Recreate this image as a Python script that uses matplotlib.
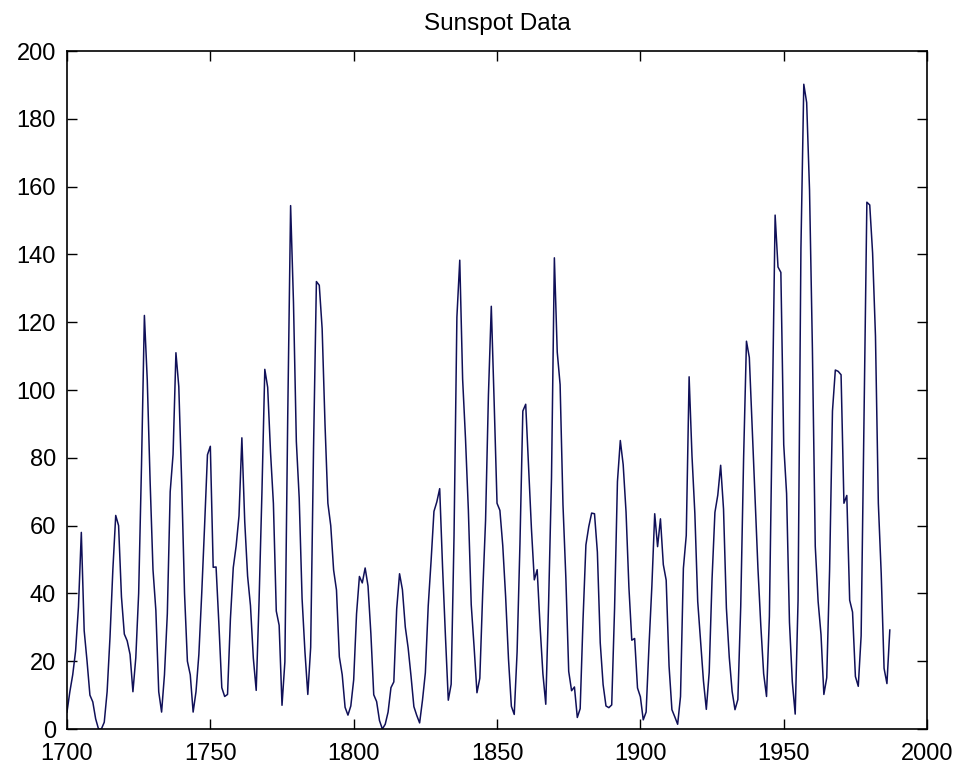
import numpy as np
import matplotlib
matplotlib.use('Agg')
import matplotlib.pyplot as plt

# yearly sunspot numbers, 1700-1987
years = np.arange(1700, 1988)
sunspots = [
    5, 11, 16, 23, 36, 58, 29, 20, 10, 8,
    3, 0, 0, 2, 11, 27, 47, 63, 60, 39,
    28, 26, 22, 11, 21, 40, 78, 122, 103, 73,
    47, 35, 11, 5, 16, 34, 70, 81, 111, 101,
    73, 40, 20, 16, 5, 11, 22, 40, 60, 80.9,
    83.4, 47.7, 47.8, 30.7, 12.2, 9.6, 10.2, 32.4, 47.6, 54,
    62.9, 85.9, 61.2, 45.1, 36.4, 20.9, 11.4, 37.8, 69.8, 106.1,
    100.8, 81.6, 66.5, 34.8, 30.6, 7, 19.8, 92.5, 154.4, 125.9,
    84.8, 68.1, 38.5, 22.8, 10.2, 24.1, 82.9, 132, 130.9, 118.1,
    89.9, 66.6, 60, 46.9, 41, 21.3, 16, 6.4, 4.1, 6.8,
    14.5, 34, 45, 43.1, 47.5, 42.2, 28.1, 10.1, 8.1, 2.5,
    0, 1.4, 5, 12.2, 13.9, 35.4, 45.8, 41.1, 30.1, 23.9,
    15.6, 6.6, 4, 1.8, 8.5, 16.6, 36.3, 49.6, 64.2, 67,
    70.9, 47.8, 27.5, 8.5, 13.2, 56.9, 121.5, 138.3, 103.2, 85.7,
    64.6, 36.7, 24.2, 10.7, 15, 40.1, 61.5, 98.5, 124.7, 96.3,
    66.6, 64.5, 54.1, 39, 20.6, 6.7, 4.3, 22.7, 54.8, 93.8,
    95.8, 77.2, 59.1, 44, 47, 30.5, 16.3, 7.3, 37.6, 74,
    139, 111.2, 101.6, 66.2, 44.7, 17, 11.3, 12.4, 3.4, 6,
    32.3, 54.3, 59.7, 63.7, 63.5, 52.2, 25.4, 13.1, 6.8, 6.3,
    7.1, 35.6, 73, 85.1, 78, 64, 41.8, 26.2, 26.7, 12.1,
    9.5, 2.7, 5, 24.4, 42, 63.5, 53.8, 62, 48.5, 43.9,
    18.6, 5.7, 3.6, 1.4, 9.6, 47.4, 57.1, 103.9, 80.6, 63.6,
    37.6, 26.1, 14.2, 5.8, 16.7, 44.3, 63.9, 69, 77.8, 64.9,
    35.7, 21.2, 11.1, 5.7, 8.7, 36.1, 79.7, 114.4, 109.6, 88.8,
    67.8, 47.5, 30.6, 16.3, 9.6, 33.2, 92.6, 151.6, 136.3, 134.7,
    83.9, 69.4, 31.5, 13.9, 4.4, 38, 141.7, 190.2, 184.8, 159,
    112.3, 53.9, 37.6, 27.9, 10.2, 15.1, 47, 93.8, 105.9, 105.5,
    104.5, 66.6, 68.9, 38, 34.5, 15.5, 12.6, 27.5, 92.5, 155.4,
    154.6, 140.4, 115.9, 66.6, 45.9, 17.9, 13.4, 29.2,
]
xticks = [1700, 1750, 1800, 1850, 1900, 1950, 2000]
yticks = list(range(0, 201, 20))

plt.rcParams['font.family'] = ['Liberation Sans', 'DejaVu Sans']

fig = plt.figure(figsize=(9.61, 7.64), dpi=100)
ax = fig.add_axes([0.0697, 0.0458, 0.895, 0.8874])
ax.plot(years, sunspots, color='#101058', linewidth=1.1)

ax.set_xlim(1700, 2000)
ax.set_ylim(0, 200)
ax.set_xticks(xticks)
ax.set_yticks(yticks)
ax.tick_params(direction='in', top=True, right=True, length=7, width=1,
               labelsize=17, colors='black')
ax.tick_params(axis='x', pad=10)
ax.tick_params(axis='y', pad=8)
for s in ax.spines.values():
    s.set_linewidth(1.2)

ax.set_title('Sunspot Data', fontsize=17.5, pad=15)

plt.savefig('out.png', dpi=100)
